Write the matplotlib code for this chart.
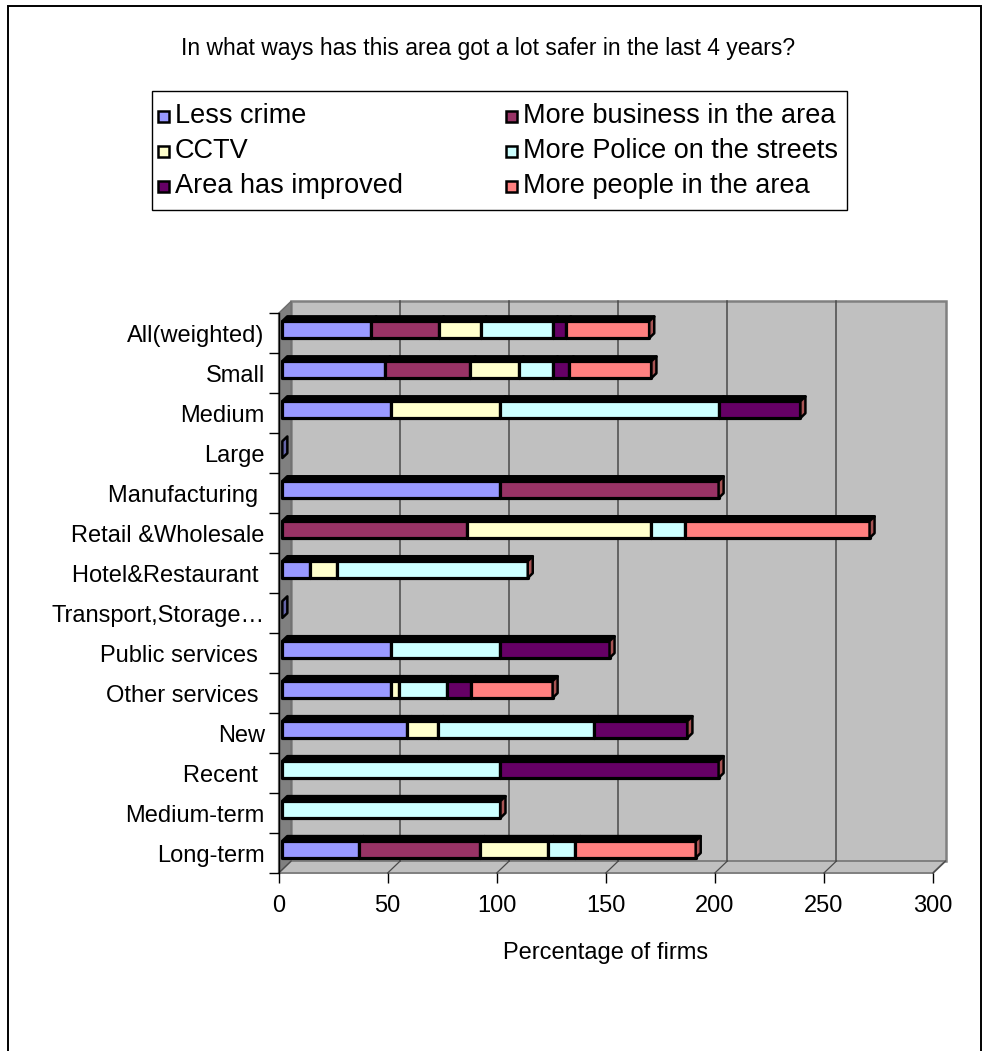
import matplotlib
matplotlib.use("Agg")
import matplotlib.pyplot as plt
from matplotlib.patches import Polygon, Rectangle
from matplotlib.transforms import IdentityTransform
from matplotlib.lines import Line2D

plt.rcParams['font.family'] = ['Liberation Sans', 'DejaVu Sans']

# ---- data -------------------------------------------------------------
categories = ["All(weighted)", "Small", "Medium", "Large", "Manufacturing ",
              "Retail &Wholesale", "Hotel&Restaurant ", "Transport,Storage\u2026",
              "Public services ", "Other services ", "New", "Recent ",
              "Medium-term", "Long-term"]

less_crime = [40.7, 47.1, 50.0, 0, 100.0, 0, 12.5, 0, 50.0, 50.0, 57.1, 0, 0, 35.0]
more_business = [31.0, 39.1, 0, 0, 100.0, 84.6, 0, 0, 0, 0, 0, 0, 0, 55.5]
cctv = [19.4, 22.1, 50.0, 0, 0, 84.6, 12.5, 0, 0, 3.4, 14.3, 0, 0, 31.5]
more_police = [32.8, 15.6, 100.0, 0, 0, 15.4, 87.5, 0, 50.0, 22.0, 71.4, 100.0, 100.0, 12.3]
area_improved = [6.1, 7.3, 37.5, 0, 0, 0, 0, 0, 50.0, 11.0, 42.9, 100.0, 0, 0]
more_people = [38.2, 38.0, 0, 0, 0, 84.6, 0, 0, 0, 37.5, 0, 0, 0, 55.2]

series_names = ["Less crime", "More business in the area", "CCTV",
                "More Police on the streets", "Area has improved",
                "More people in the area"]
series_values = [less_crime, more_business, cctv, more_police, area_improved, more_people]
series_colors = ["#9999FF", "#993366", "#FFFFCC", "#CCFFFF", "#660066", "#FF8080"]

x_ticks = [0, 50, 100, 150, 200, 250, 300]
title = "In what ways has this area got a lot safer in the last 4 years?"
x_label = "Percentage of firms"

# ---- figure -----------------------------------------------------------
W, H = 983, 1051
fig = plt.figure(figsize=(W / 100, H / 100), dpi=100)


def fx(px):
    return px / W


def fy(py):
    return 1 - py / H


# front plane of the 3-D box
ax = fig.add_axes([fx(278.6), fy(873), (933 - 278.6) / W, (873 - 313.3) / H])
ax.set_xlim(x_ticks[0], x_ticks[-1])
ax.set_ylim(len(categories) - 0.5, -0.5)
ax.set_autoscale_on(False)
ax.patch.set_visible(False)
for s in ("top", "right", "bottom"):
    ax.spines[s].set_visible(False)
ax.spines["left"].set_color("black")
ax.spines["left"].set_linewidth(1.0)
ax.spines["left"].set_zorder(6)

ax.set_xticks(x_ticks)
ax.set_xticklabels([str(t) for t in x_ticks], fontsize=17)
ax.tick_params(axis="x", direction="out", length=7.5, width=1.0, color="black", pad=8.5)

ax.set_yticks(range(len(categories)))
ax.set_yticklabels(categories, fontsize=17)
ax.set_yticks([i - 0.5 for i in range(len(categories) + 1)], minor=True)
ax.tick_params(axis="y", which="major", length=0, pad=10)
ax.tick_params(axis="y", which="minor", direction="out", length=7.5, width=1.0, color="black")

ID = IdentityTransform()
DEPTH_DX, DEPTH_DY = 12.5, 12.0   # oblique depth, display pixels


def proj(x, y, d):
    px, py = ax.transData.transform((x, y))
    return (px + d * DEPTH_DX, py + d * DEPTH_DY)


def poly(verts, **kw):
    p = Polygon(verts, closed=True, transform=ID, clip_on=False, **kw)
    ax.add_patch(p)
    return p


def line(p0, p1, **kw):
    ax.add_line(Line2D([p0[0], p1[0]], [p0[1], p1[1]], transform=ID, clip_on=False, **kw))


x0, x1 = x_ticks[0], x_ticks[-1]
ytop, ybot = -0.5, len(categories) - 0.5

# back wall
poly([proj(x0, ytop, 1), proj(x1, ytop, 1), proj(x1, ybot, 1), proj(x0, ybot, 1)],
     facecolor="#C0C0C0", edgecolor="#808080", linewidth=1.8, zorder=0.5)
# left wall
poly([proj(x0, ytop, 0), proj(x0, ytop, 1), proj(x0, ybot, 1), proj(x0, ybot, 0)],
     facecolor="#808080", edgecolor="#6E6E6E", linewidth=1.0, zorder=0.6)
# floor
poly([proj(x0, ybot, 0), proj(x1, ybot, 0), proj(x1, ybot, 1), proj(x0, ybot, 1)],
     facecolor="#C0C0C0", edgecolor="#808080", linewidth=1.4, zorder=0.6)

# gridlines on the back wall and across the floor
for t in x_ticks[1:-1]:
    line(proj(t, ytop, 1), proj(t, ybot, 1), color="#4A4A4A", linewidth=1.1, zorder=0.8)
for t in x_ticks:
    line(proj(t, ybot, 0), proj(t, ybot, 1), color="#4A4A4A", linewidth=0.9, zorder=0.8)


def shade(c, f):
    r, g, b = matplotlib.colors.to_rgb(c)
    return (r * f, g * f, b * f)


# stacked 3-D bars
bar_h = 0.42
d0, d1 = 0.3, 0.7
for i, cat in enumerate(categories):
    yt, yb = i - bar_h / 2, i + bar_h / 2
    left = 0.0
    for vals, col in zip(series_values, series_colors):
        w = vals[i]
        if w <= 0:
            continue
        right = left + w
        poly([proj(left, yt, d0), proj(right, yt, d0), proj(right, yt, d1), proj(left, yt, d1)],
             facecolor="black", edgecolor="black", linewidth=2.0,
             joinstyle="round", zorder=3)
        poly([proj(left, yt, d0), proj(right, yt, d0), proj(right, yb, d0), proj(left, yb, d0)],
             facecolor=col, edgecolor="black", linewidth=2.3,
             joinstyle="round", zorder=3.2)
        left = right
    cap_col = series_colors[-1] if left > 0 else series_colors[0]
    poly([proj(left, yt, d0), proj(left, yt, d1), proj(left, yb, d1), proj(left, yb, d0)],
         facecolor=shade(cap_col, 0.66), edgecolor="black", linewidth=1.8,
         joinstyle="round", zorder=3.4)

# axis label and title
fig.text(fx(605.8), fy(953), x_label, ha="center", va="center", fontsize=17)
fig.text(fx(488), fy(48), title, ha="center", va="center", fontsize=16.5)

# legend
fig.add_artist(Rectangle((fx(152), fy(210)), fx(847) - fx(152), fy(91) - fy(210),
                         transform=fig.transFigure, facecolor="white",
                         edgecolor="black", linewidth=1.0))
col_x = [163, 511]
row_y = [116, 151, 186]
msz = 11
for k, (name, col) in enumerate(zip(series_names, series_colors)):
    r, c = divmod(k, 2)
    mx, my = col_x[c], row_y[r]
    fig.add_artist(Rectangle((fx(mx - msz / 2), fy(my + msz / 2)), msz / W, msz / H,
                             transform=fig.transFigure, facecolor=col,
                             edgecolor="black", linewidth=1.8))
    fig.text(fx(mx + 12), fy(my), name, ha="left", va="center", fontsize=19.5)

# chart-area border
fig.add_artist(Rectangle((fx(8), fy(H + 10)), fx(981) - fx(8), fy(6) - fy(H + 10),
                         transform=fig.transFigure, facecolor="none",
                         edgecolor="black", linewidth=1.4))

fig.savefig("out.png", dpi=100)
